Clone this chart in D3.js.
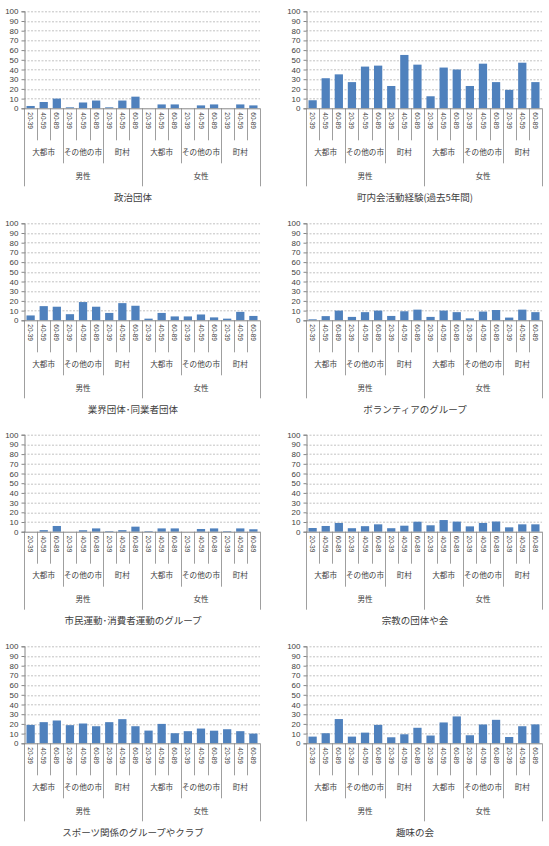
<!DOCTYPE html>
<html>
<head>
<meta charset="utf-8">
<script src="https://cdn.jsdelivr.net/npm/d3@7"></script>
<style>
  html, body { margin: 0; padding: 0; background: #fff; }
  svg { display: block; }
  text { font-family: "Noto Sans CJK JP", "Noto Sans", sans-serif; fill: #404040; }
</style>
</head>
<body>
<svg id="chart" width="549" height="846"></svg>
<script>
// ---- data ----
const ages = ["20-39", "40-59", "60-89"];
const cities = ["大都市", "その他の市", "町村"];
const genders = ["男性", "女性"];
const yTicks = [0, 10, 20, 30, 40, 50, 60, 70, 80, 90, 100];

const titles = [
  "政治団体",
  "町内会活動経験(過去5年間)",
  "業界団体･同業者団体",
  "ボランティアのグループ",
  "市民運動･消費者運動のグループ",
  "宗教の団体や会",
  "スポーツ関係のグループやクラブ",
  "趣味の会"
];

// order: 男性(大都市 20-39,40-59,60-89, その他の市 ..., 町村 ...), 女性(...)
const politicalGroup   = [2.4, 6.5, 10, 1, 6, 8, 1, 8, 12,   0, 4, 4, 0, 3, 4, 0, 4, 3];
const neighborhood     = [8.3, 31, 35, 27, 43, 44, 23, 55, 45,   12.4, 42, 40, 23, 46, 27, 19, 47, 27];
const industryGroup    = [5, 14.6, 14, 6.3, 18.8, 14, 7.6, 17.7, 15,   1.7, 7.6, 4, 4, 6, 3, 1.7, 8.7, 4.5];
const volunteerGroup   = [1, 4.3, 10, 3.5, 8.4, 10, 4.5, 9.3, 11,   3.5, 10, 8.4, 2, 9, 10.6, 2.8, 11, 8.4];
const citizenMovement  = [0, 1.6, 5.9, 0, 1.5, 3.4, 0.6, 1.6, 5.2,   0.6, 3.4, 3.4, 0, 2.8, 3.4, 0.6, 3.4, 2.5];
const religiousGroup   = [3.8, 5.9, 9, 3.6, 5.7, 7.6, 3.6, 6.2, 10.3,   6.6, 12, 10.4, 5.5, 9, 10.5, 4.5, 7.6, 7.6];
const sportsGroup      = [19, 21.8, 23.5, 18.7, 20.4, 17.6, 21.8, 24.9, 17.6,   13.1, 20, 10.4, 12.5, 15.2, 13, 14.5, 12.5, 10];
const hobbyGroup       = [6.9, 10.4, 25, 6.9, 11, 19, 6.2, 9.3, 16,   8, 21.5, 27.7, 8.3, 19.4, 24.2, 6.5, 17.6, 19.5];

const panelValues = [politicalGroup, neighborhood, industryGroup, volunteerGroup,
                     citizenMovement, religiousGroup, sportsGroup, hobbyGroup];

// ---- layout ----
const svg = d3.select("#chart");
const colX = [0, 282];
const rowTop = [11.3, 223.3, 434.7, 646.3];
const plotLeft = 24, plotWidth = 236, plotHeight = 97;
const barColor = "#4F81BD";
const axisColor = "#868686";

// category keys
const cats = [];
genders.forEach((g, gi) => cities.forEach((c, ci) => ages.forEach((a, ai) => cats.push(`${gi}|${ci}|${ai}`))));

panelValues.forEach((vals, pi) => {
  const col = pi % 2, row = Math.floor(pi / 2);
  const g = svg.append("g").attr("transform", `translate(${colX[col]},${rowTop[row]})`);
  const x = d3.scaleBand().domain(cats).range([plotLeft, plotLeft + plotWidth]).paddingInner(0.37).paddingOuter(0.19);
  const xEdge = d3.scaleBand().domain(cats).range([plotLeft, plotLeft + plotWidth]).padding(0);
  const y = d3.scaleLinear().domain([0, 100]).range([plotHeight, 0]);
  const Z = plotHeight;

  // gridlines
  g.append("g").selectAll("line").data(yTicks.filter(t => t > 0)).join("line")
    .attr("x1", plotLeft).attr("x2", plotLeft + plotWidth)
    .attr("y1", d => Math.round(y(d)) + 0.5).attr("y2", d => Math.round(y(d)) + 0.5)
    .attr("stroke", "#b3b3b3").attr("stroke-width", 0.8).attr("stroke-dasharray", "2,1.5");

  // bars
  g.append("g").selectAll("rect").data(vals).join("rect")
    .attr("x", (d, i) => x(cats[i]))
    .attr("width", x.bandwidth())
    .attr("y", d => y(d))
    .attr("height", d => y(0) - y(d))
    .attr("fill", barColor);

  // y axis
  const yAxis = d3.axisLeft(y).tickValues(yTicks).tickSize(3).tickPadding(3);
  const ya = g.append("g").attr("transform", `translate(${plotLeft + 0.5},0)`).call(yAxis);
  ya.select(".domain").attr("stroke", axisColor);
  ya.selectAll(".tick line").attr("stroke", axisColor);
  ya.selectAll(".tick text").attr("font-size", 8).attr("fill", "#404040")
    .style("font-family", "'Liberation Sans', Arial, sans-serif");

  // x axis line
  g.append("line").attr("x1", plotLeft).attr("x2", plotLeft + plotWidth)
    .attr("y1", Z + 0.5).attr("y2", Z + 0.5).attr("stroke", axisColor);

  // separators
  const sep = [];
  cats.forEach((c, i) => {
    if (i === 0) return;
    const [gi, ci, ai] = c.split("|").map(Number);
    let len = 32;
    if (ai === 0) len = 55;
    if (ai === 0 && ci === 0) len = 78;
    sep.push({ x: xEdge(c), len });
  });
  sep.push({ x: plotLeft, len: 78 });
  sep.push({ x: plotLeft + plotWidth, len: 78 });
  g.append("g").selectAll("line").data(sep).join("line")
    .attr("x1", d => Math.round(d.x) + 0.5).attr("x2", d => Math.round(d.x) + 0.5)
    .attr("y1", Z).attr("y2", d => Z + d.len)
    .attr("stroke", axisColor).attr("stroke-width", 0.8);

  // age labels (rotated)
  g.append("g").selectAll("text").data(cats).join("text")
    .attr("transform", c => `translate(${xEdge(c) + xEdge.bandwidth() / 2 - 2.5},${Z + 4}) rotate(90)`)
    .attr("font-size", 6.5)
    .style("font-family", "'Liberation Sans', Arial, sans-serif")
    .text(c => ages[+c.split("|")[2]]);

  // city labels
  const cityData = [];
  genders.forEach((gn, gi) => cities.forEach((cn, ci) => {
    const first = xEdge(`${gi}|${ci}|0`), last = xEdge(`${gi}|${ci}|2`) + xEdge.bandwidth();
    cityData.push({ name: cn, cx: (first + last) / 2 });
  }));
  g.append("g").selectAll("text").data(cityData).join("text")
    .attr("x", d => d.cx).attr("y", Z + 44).attr("dy", "0.35em")
    .attr("text-anchor", "middle").attr("font-size", 7.6)
    .text(d => d.name);

  // gender labels
  g.append("g").selectAll("text").data(genders).join("text")
    .attr("x", (d, gi) => (xEdge(`${gi}|0|0`) + xEdge(`${gi}|2|2`) + xEdge.bandwidth()) / 2)
    .attr("y", Z + 68).attr("dy", "0.35em")
    .attr("text-anchor", "middle").attr("font-size", 7.6)
    .text(d => d);

  // title
  g.append("text").attr("x", 133).attr("y", Z + 89).attr("dy", "0.35em")
    .attr("text-anchor", "middle").attr("font-size", 9.5)
    .text(titles[pi]);
});
</script>
</body>
</html>
